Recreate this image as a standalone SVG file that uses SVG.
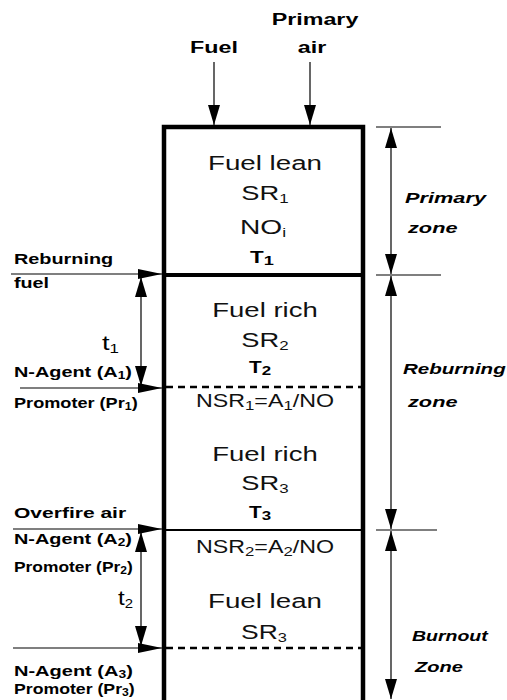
<svg xmlns="http://www.w3.org/2000/svg" width="507" height="700" viewBox="0 0 507 700">
  <style>
    text { font-family: "Liberation Sans", Arial, sans-serif; fill: #000; }
    .top { font-size: 17px; font-weight: bold; text-anchor: middle; }
    .zt { font-size: 21px; text-anchor: middle; fill: #111; }
    .nsr { font-size: 18px; text-anchor: middle; fill: #111; }
    .tt { font-size: 16px; font-weight: bold; text-anchor: middle; }
    .lbl { font-size: 14.5px; font-weight: bold; }
    .zone { font-size: 15px; font-weight: bold; font-style: italic; }
    .tm { font-size: 21px; }
    .sub { font-size: 13px; }
    .subs { font-size: 10px; }
    .wall { fill: none; stroke: #000; stroke-width: 4.5; }
    .thin { stroke: #000; stroke-width: 1.2; fill: none; }
    .dash { stroke: #000; stroke-width: 2.5; stroke-dasharray: 7 5; }
  </style>
  <defs>
    <marker id="ah" viewBox="0 0 20 12" refX="20" refY="6" markerWidth="20" markerHeight="12" markerUnits="userSpaceOnUse" orient="auto-start-reverse">
      <path d="M0,0 L20,6 L0,12 Z" fill="#000"/>
    </marker>
    <marker id="ahs" viewBox="0 0 24 10" refX="24" refY="5" markerWidth="24" markerHeight="10" markerUnits="userSpaceOnUse" orient="auto">
      <path d="M0,0 L24,5 L0,10 Z" fill="#000"/>
    </marker>
  </defs>

  <!-- furnace walls and zone boundaries -->
  <g id="furnace">
    <path class="wall" d="M164,700 V127 H363 V700"/>
    <line x1="164" y1="275" x2="363" y2="275" stroke="#000" stroke-width="4"/>
    <line x1="164" y1="530" x2="363" y2="530" stroke="#000" stroke-width="2"/>
    <line class="dash" x1="166" y1="387" x2="361" y2="387"/>
    <line class="dash" x1="166" y1="648" x2="361" y2="648"/>
  </g>

  <!-- feed streams at the top (text is drawn wide: scaled on x) -->
  <g id="feed-fuel">
    <text class="top" transform="translate(214,53) scale(1.37,1)">Fuel</text>
  </g>
  <g id="feed-primary-air">
    <text class="top" transform="translate(315,25) scale(1.37,1)">Primary</text>
    <text class="top" transform="translate(312,53) scale(1.37,1)">air</text>
  </g>

  <!-- primary zone -->
  <g id="zone-primary">
    <text class="zt" transform="translate(265,170) scale(1.32,1)">Fuel lean</text>
    <text class="zt" transform="translate(265,200) scale(1.3,1)">SR<tspan class="sub" dy="3">1</tspan></text>
    <text class="zt" transform="translate(263,234) scale(1.34,1)">NO<tspan class="sub" dy="3">i</tspan></text>
    <text class="tt" transform="translate(262,263) scale(1.4,1)">T<tspan class="sub" dy="2">1</tspan></text>
  </g>

  <!-- reburning zone, upper part -->
  <g id="zone-reburning-upper">
    <text class="zt" transform="translate(265,317) scale(1.31,1)">Fuel rich</text>
    <text class="zt" transform="translate(265,347) scale(1.3,1)">SR<tspan class="sub" dy="3">2</tspan></text>
    <text class="tt" transform="translate(260,373) scale(1.3,1)">T<tspan class="sub" dy="2">2</tspan></text>
  </g>

  <!-- reburning zone, after first N-agent injection -->
  <g id="zone-reburning-lower">
    <text class="nsr" transform="translate(265,407) scale(1.29,1)">NSR<tspan class="sub" dy="3">1</tspan><tspan dy="-3">=A</tspan><tspan class="sub" dy="3">1</tspan><tspan dy="-3">/NO</tspan></text>
    <text class="zt" transform="translate(265,461) scale(1.31,1)">Fuel rich</text>
    <text class="zt" transform="translate(265,490) scale(1.3,1)">SR<tspan class="sub" dy="3">3</tspan></text>
    <text class="tt" transform="translate(260,518) scale(1.3,1)">T<tspan class="sub" dy="2">3</tspan></text>
  </g>

  <!-- burnout zone -->
  <g id="zone-burnout">
    <text class="nsr" transform="translate(265,553) scale(1.29,1)">NSR<tspan class="sub" dy="3">2</tspan><tspan dy="-3">=A</tspan><tspan class="sub" dy="3">2</tspan><tspan dy="-3">/NO</tspan></text>
    <text class="zt" transform="translate(265,608) scale(1.32,1)">Fuel lean</text>
    <text class="zt" transform="translate(264,639) scale(1.26,1)">SR<tspan class="sub" dy="3">3</tspan></text>
  </g>

  <!-- injection labels on the left -->
  <g id="inj-reburning-fuel">
    <text class="lbl" transform="translate(14,264) scale(1.37,1)">Reburning</text>
    <text class="lbl" transform="translate(14,288) scale(1.36,1)">fuel</text>
  </g>
  <g id="inj-agent-1">
    <text class="lbl" transform="translate(14,377) scale(1.37,1)">N-Agent (A<tspan class="subs" dy="2">1</tspan><tspan dy="-2">)</tspan></text>
    <text class="lbl" transform="translate(14,408) scale(1.25,1)">Promoter (Pr<tspan class="subs" dy="2">1</tspan><tspan dy="-2">)</tspan></text>
  </g>
  <g id="inj-overfire-air">
    <text class="lbl" transform="translate(14,518) scale(1.45,1)">Overfire air</text>
    <text class="lbl" transform="translate(14,544) scale(1.37,1)">N-Agent (A<tspan class="subs" dy="2">2</tspan><tspan dy="-2">)</tspan></text>
    <text class="lbl" transform="translate(14,572) scale(1.2,1)">Promoter (Pr<tspan class="subs" dy="2">2</tspan><tspan dy="-2">)</tspan></text>
  </g>
  <g id="inj-agent-3">
    <text class="lbl" transform="translate(14,676) scale(1.38,1)">N-Agent (A<tspan class="subs" dy="2">3</tspan><tspan dy="-2">)</tspan></text>
    <text class="lbl" transform="translate(14,694) scale(1.22,1)">Promoter (Pr<tspan class="subs" dy="2">3</tspan><tspan dy="-2">)</tspan></text>
  </g>

  <!-- residence times -->
  <g id="time-1">
    <text class="tm" transform="translate(102,350) scale(1.3,1)">t<tspan class="sub" dy="3">1</tspan></text>
  </g>
  <g id="time-2">
    <text class="tm" transform="translate(118,605) scale(1.15,1)">t<tspan class="sub" dy="3">2</tspan></text>
  </g>

  <!-- zone names on the right -->
  <g id="span-primary">
    <text class="zone" transform="translate(405,203) scale(1.45,1)">Primary</text>
    <text class="zone" transform="translate(408,233) scale(1.45,1)">zone</text>
  </g>
  <g id="span-reburning">
    <text class="zone" transform="translate(403,374) scale(1.37,1)">Reburning</text>
    <text class="zone" transform="translate(408,407) scale(1.45,1)">zone</text>
  </g>
  <g id="span-burnout">
    <text class="zone" transform="translate(412,641) scale(1.3,1)">Burnout</text>
    <text class="zone" transform="translate(415,672) scale(1.34,1)">Zone</text>
  </g>

  <!-- connectors: feeds, injections, time spans and zone extents -->
  <g id="connectors">
    <line class="thin" x1="214" y1="62" x2="214" y2="125" marker-end="url(#ah)"/>
    <line class="thin" x1="310" y1="62" x2="310" y2="125" marker-end="url(#ah)"/>

    <line class="thin" x1="11" y1="274" x2="162" y2="274" marker-end="url(#ahs)"/>
    <line class="thin" x1="20" y1="388" x2="162" y2="388" marker-end="url(#ahs)"/>
    <line class="thin" x1="13" y1="529" x2="162" y2="529" marker-end="url(#ahs)"/>
    <line class="thin" x1="13" y1="648" x2="162" y2="648" marker-end="url(#ahs)"/>

    <line class="thin" x1="141" y1="277" x2="141" y2="386" marker-start="url(#ah)" marker-end="url(#ah)"/>
    <line class="thin" x1="141" y1="532" x2="141" y2="646" marker-start="url(#ah)" marker-end="url(#ah)"/>

    <line class="thin" x1="376" y1="127" x2="441" y2="127"/>
    <line class="thin" x1="376" y1="275" x2="441" y2="275"/>
    <line class="thin" x1="376" y1="530" x2="437" y2="530"/>

    <line class="thin" x1="391" y1="128" x2="391" y2="274" marker-start="url(#ah)" marker-end="url(#ah)"/>
    <line class="thin" x1="391" y1="276" x2="391" y2="529" marker-start="url(#ah)" marker-end="url(#ah)"/>
    <line class="thin" x1="391" y1="531" x2="391" y2="699" marker-start="url(#ah)" marker-end="url(#ah)"/>
  </g>
</svg>
